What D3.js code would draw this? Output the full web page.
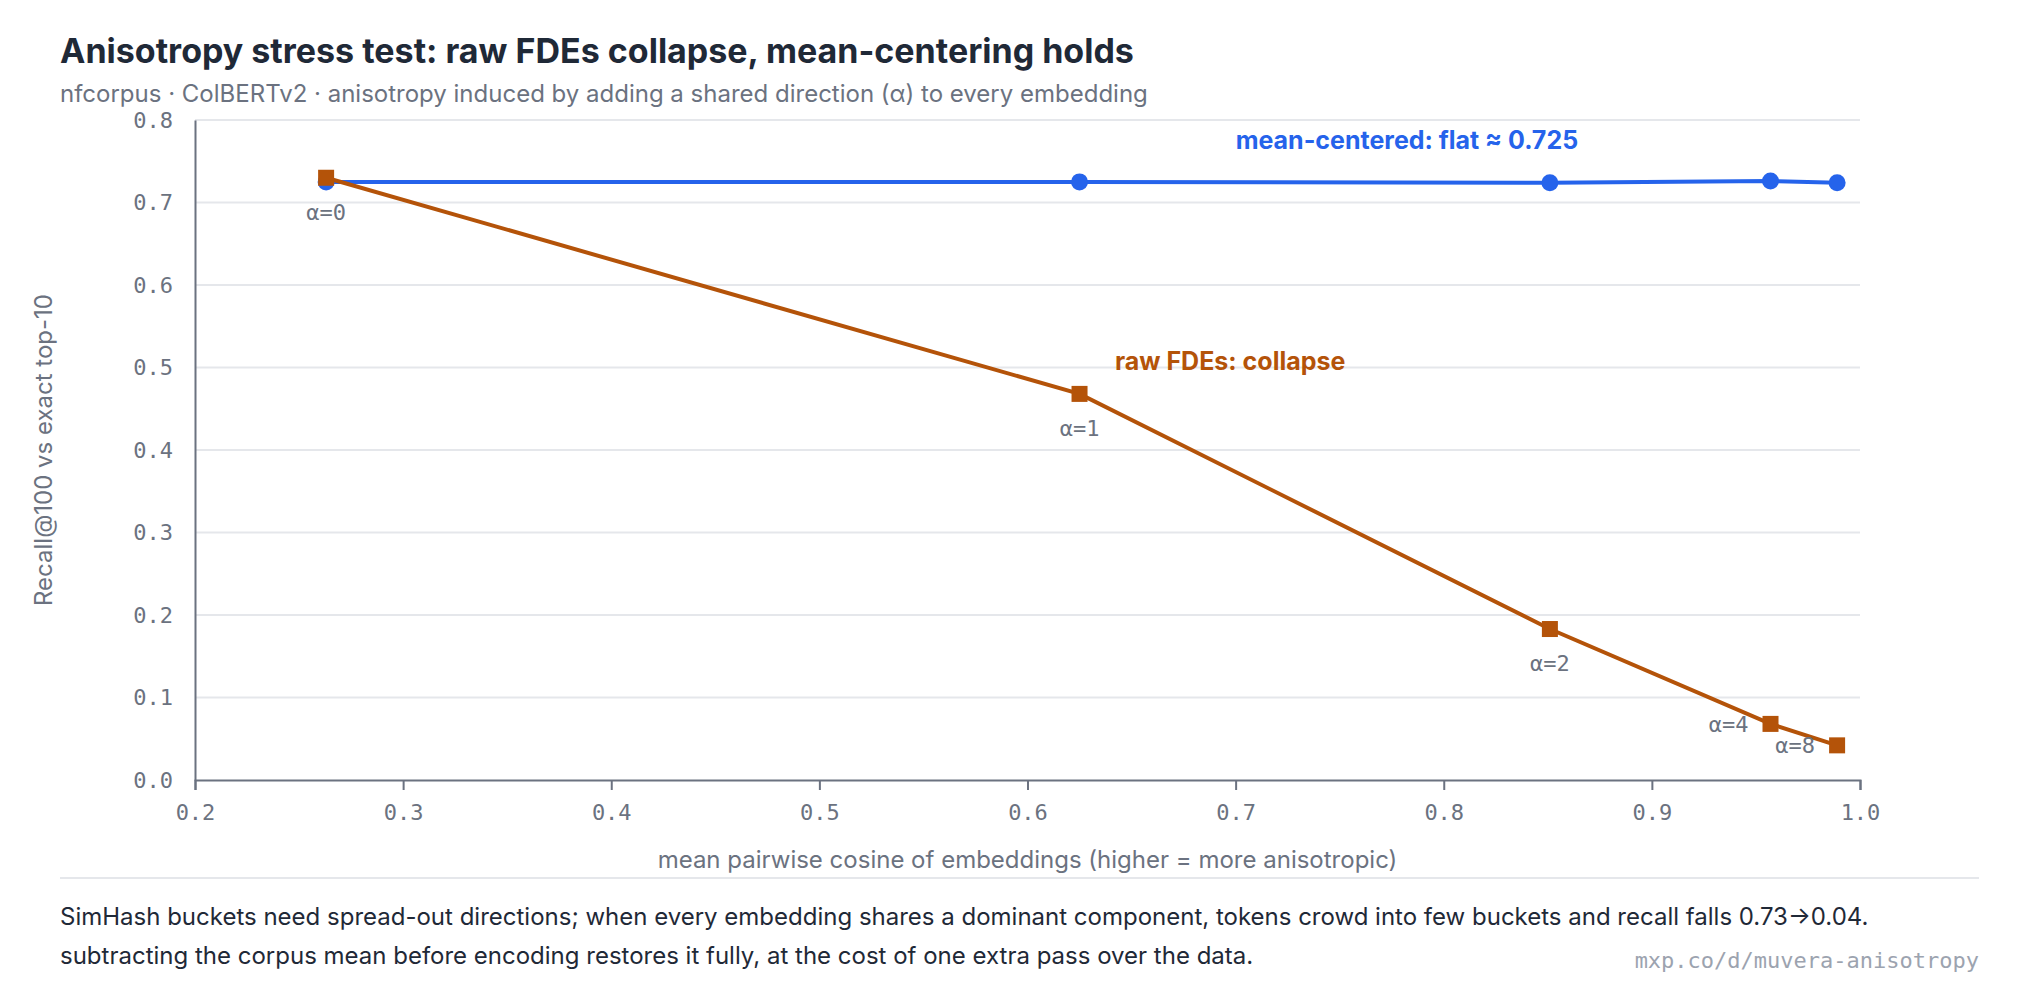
<!DOCTYPE html>
<html>
<head>
<meta charset="utf-8">
<script src="https://cdn.jsdelivr.net/npm/d3@7"></script>
<style>
  html, body { margin: 0; padding: 0; background: #ffffff; }
  svg { display: block; }
</style>
</head>
<body>
<svg id="chart" width="2040" height="990"></svg>
<script>
// ---- data ----
const cosine = [0.263, 0.625, 0.851, 0.957, 0.989];
const alphaLabels = ["α=0", "α=1", "α=2", "α=4", "α=8"];
const meanCentered = [0.725, 0.725, 0.724, 0.726, 0.724];
const rawFDE = [0.730, 0.468, 0.183, 0.068, 0.042];
const xTicks = [0.2, 0.3, 0.4, 0.5, 0.6, 0.7, 0.8, 0.9, 1.0];
const yTicks = [0.0, 0.1, 0.2, 0.3, 0.4, 0.5, 0.6, 0.7, 0.8];

const title = "Anisotropy stress test: raw FDEs collapse, mean-centering holds";
const subtitle = "nfcorpus · ColBERTv2 · anisotropy induced by adding a shared direction (α) to every embedding";
const xTitle = "mean pairwise cosine of embeddings (higher = more anisotropic)";
const yTitle = "Recall@100 vs exact top-10";
const footer1 = "SimHash buckets need spread-out directions; when every embedding shares a dominant component, tokens crowd into few buckets and recall falls 0.73→0.04.";
const footer2 = "subtracting the corpus mean before encoding restores it fully, at the cost of one extra pass over the data.";
const sourceText = "mxp.co/d/muvera-anisotropy";
const blueNote = "mean-centered: flat ≈ 0.725";
const orangeNote = "raw FDEs: collapse";

// ---- style ----
const BLUE = "#2563eb", ORANGE = "#b45309";
const SANS = "Inter, 'Noto Sans', sans-serif";
const MONO = "'DejaVu Sans Mono', monospace";
const GRAY = "#6b7280", DARK = "#1f2937", GRID = "#e5e7eb";

const svg = d3.select("#chart");
const m = {left: 195, right: 180, top: 120, bottom: 210};
const W = 2040, H = 990;

const x = d3.scaleLinear().domain([0.2, 1.0]).range([m.left, W - m.right]);
const y = d3.scaleLinear().domain([0, 0.8]).range([H - m.bottom, m.top]);

// titles
svg.append("text").attr("x", 60).attr("y", 63)
  .attr("font-family", SANS).attr("font-weight", 700).attr("font-size", 34)
  .attr("fill", DARK).text(title);
svg.append("text").attr("x", 60).attr("y", 102)
  .attr("font-family", SANS).attr("font-size", 24)
  .attr("fill", GRAY).text(subtitle);

// grid
svg.append("g").selectAll("line").data(yTicks.filter(d => d > 0)).join("line")
  .attr("x1", x(0.2)).attr("x2", x(1.0))
  .attr("y1", d => y(d)).attr("y2", d => y(d))
  .attr("stroke", GRID).attr("stroke-width", 2);

// y axis
const yAxis = svg.append("g").attr("transform", `translate(${x(0.2)},0)`)
  .call(d3.axisLeft(y).tickValues(yTicks).tickFormat(d3.format(".1f")).tickSize(0).tickPadding(22));
yAxis.select(".domain").attr("stroke", GRAY).attr("stroke-width", 2);
yAxis.selectAll("text").attr("font-family", MONO).attr("font-size", 22).attr("fill", GRAY);

// x axis
const xAxis = svg.append("g").attr("transform", `translate(0,${y(0)})`)
  .call(d3.axisBottom(x).tickValues(xTicks).tickFormat(d3.format(".1f")).tickSize(10).tickSizeOuter(10).tickPadding(14));
xAxis.select(".domain").attr("stroke", GRAY).attr("stroke-width", 2);
xAxis.selectAll(".tick line").attr("stroke", GRAY).attr("stroke-width", 2);
xAxis.selectAll("text").attr("font-family", MONO).attr("font-size", 22).attr("fill", GRAY);

// axis titles
svg.append("text").attr("x", (x(0.2) + x(1.0)) / 2).attr("y", 868)
  .attr("text-anchor", "middle").attr("font-family", SANS).attr("font-size", 24)
  .attr("fill", GRAY).text(xTitle);
svg.append("text").attr("transform", `translate(52,${(y(0) + y(0.8)) / 2}) rotate(-90)`)
  .attr("text-anchor", "middle").attr("font-family", SANS).attr("font-size", 24)
  .attr("fill", GRAY).text(yTitle);

// lines
const blueData = cosine.map((c, i) => ({x: c, y: meanCentered[i]}));
const orangeData = cosine.map((c, i) => ({x: c, y: rawFDE[i], label: alphaLabels[i]}));
const line = d3.line().x(d => x(d.x)).y(d => y(d.y));

svg.append("path").datum(blueData).attr("d", line)
  .attr("fill", "none").attr("stroke", BLUE).attr("stroke-width", 4);
svg.append("g").selectAll("circle").data(blueData).join("circle")
  .attr("cx", d => x(d.x)).attr("cy", d => y(d.y)).attr("r", 8.5).attr("fill", BLUE);

svg.append("path").datum(orangeData).attr("d", line)
  .attr("fill", "none").attr("stroke", ORANGE).attr("stroke-width", 4);
const sq = 16;
svg.append("g").selectAll("rect").data(orangeData).join("rect")
  .attr("x", d => x(d.x) - sq / 2).attr("y", d => y(d.y) - sq / 2)
  .attr("width", sq).attr("height", sq).attr("fill", ORANGE);

// alpha labels: first three below, last two to the left
svg.append("g").selectAll("text").data(orangeData).join("text")
  .attr("x", (d, i) => i < 3 ? x(d.x) : x(d.x) - 22)
  .attr("y", (d, i) => i < 3 ? y(d.y) + 42 : y(d.y) + 8)
  .attr("text-anchor", (d, i) => i < 3 ? "middle" : "end")
  .attr("font-family", MONO).attr("font-size", 22).attr("fill", GRAY)
  .text(d => d.label);

// annotations
svg.append("text").attr("x", x(0.7)).attr("y", y(0.765))
  .attr("font-family", SANS).attr("font-weight", 700).attr("font-size", 25)
  .attr("fill", BLUE).text(blueNote);
svg.append("text").attr("x", x(0.642)).attr("y", y(0.5) + 2)
  .attr("font-family", SANS).attr("font-weight", 700).attr("font-size", 25)
  .attr("fill", ORANGE).text(orangeNote);

// separator and footer
svg.append("line").attr("x1", 60).attr("x2", 1979).attr("y1", 878).attr("y2", 878)
  .attr("stroke", GRID).attr("stroke-width", 2);
svg.append("text").attr("x", 60).attr("y", 925)
  .attr("font-family", SANS).attr("font-size", 24).attr("fill", DARK).text(footer1);
svg.append("text").attr("x", 60).attr("y", 964)
  .attr("font-family", SANS).attr("font-size", 24).attr("fill", DARK).text(footer2);
svg.append("text").attr("x", 1979).attr("y", 968).attr("text-anchor", "end")
  .attr("font-family", MONO).attr("font-size", 22).attr("fill", "#9ca3af").text(sourceText);
</script>
</body>
</html>
